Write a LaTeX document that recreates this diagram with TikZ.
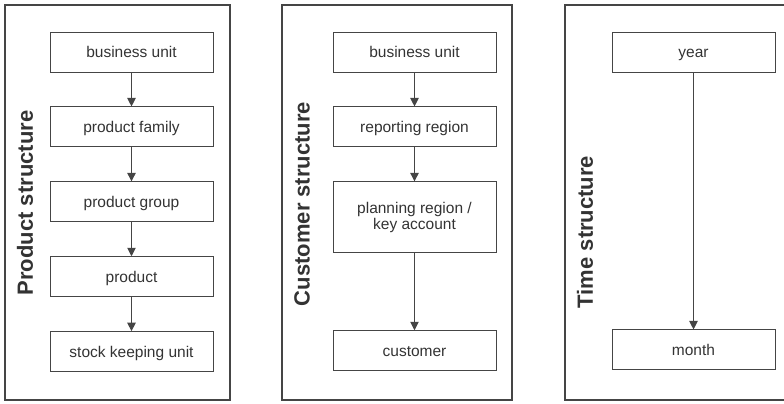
\documentclass[tikz,border=0pt]{standalone}
\usepackage{fontspec}
\setmainfont{Liberation Sans}
\usetikzlibrary{arrows.meta,positioning}
\definecolor{Line}{HTML}{454545}
\definecolor{Ink}{HTML}{333333}

\begin{document}
\begin{tikzpicture}[
    x=1pt,y=-1pt,
    level/.style={rectangle,draw=Line,line width=0.9pt,minimum width=163pt,minimum height=40pt,align=center,text=Ink,font=\fontsize{15.5}{16}\selectfont},
    oneline/.style={text height=15pt,text depth=4pt},
    panel/.style={draw=Line,line width=1.3pt},
    title/.style={rotate=90,text=Ink,font=\fontsize{22}{26}\selectfont\bfseries},
    arrow/.style={-{Triangle[length=8.5pt,width=8.5pt]},draw=Line,line width=0.9pt}
]
\useasboundingbox (0,0) rectangle (784,404);
% frames
\draw[panel] (5,5) rectangle (230,400);
\draw[panel] (282,5) rectangle (512,400);
\draw[panel] (800,5) -- (565,5) -- (565,400) -- (800,400);
\node[title] (ptitle) at (25,203) {Product structure};
\node[title] (ctitle) at (302,204) {Customer structure};
\node[title] (ttitle) at (585,232) {Time structure};
% product structure
\node[level,oneline] (pbu) at (131.5,52) {business unit};
\node[level,oneline,below=34pt of pbu] (pfam) {product family};
\node[level,oneline,below=34pt of pfam] (pgrp) {product group};
\node[level,oneline,below=34pt of pgrp] (prod) {product};
\node[level,oneline,below=34pt of prod] (psku) {stock keeping unit};
\draw[arrow] (pbu) -- (pfam);
\draw[arrow] (pfam) -- (pgrp);
\draw[arrow] (pgrp) -- (prod);
\draw[arrow] (prod) -- (psku);
% customer structure
\node[level,oneline] (cbu) at (414.5,52) {business unit};
\node[level,oneline,below=34pt of cbu] (crep) {reporting region};
\node[level,minimum height=71pt,below=34pt of crep] (cplan) {planning region /\\key account};
\node[level,oneline,below=77pt of cplan] (cust) {customer};
\draw[arrow] (cbu) -- (crep);
\draw[arrow] (crep) -- (cplan);
\draw[arrow] (cplan) -- (cust);
% time structure
\node[level,oneline] (year) at (693.5,52) {year};
\node[level,oneline,below=257pt of year] (month) {month};
\draw[arrow] (year) -- (month);
\end{tikzpicture}
\end{document}
